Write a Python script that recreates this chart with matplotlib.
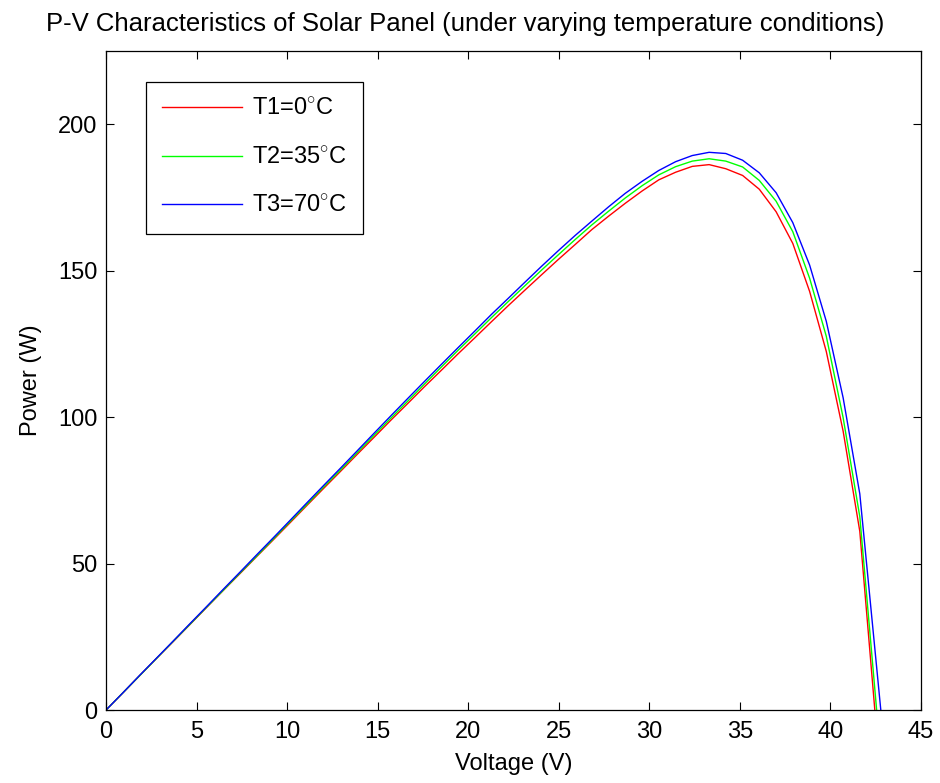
import matplotlib
matplotlib.use("Agg")
import matplotlib.pyplot as plt

volts = [0.00, 0.92, 1.85, 2.77, 3.70, 4.62, 5.55, 6.47, 7.40, 8.32,
         9.25, 10.17, 11.10, 12.02, 12.95, 13.87, 14.80, 15.72, 16.65, 17.57,
         18.50, 19.42, 20.35, 21.27, 22.20, 23.12, 24.05, 24.97, 25.90, 26.82,
         27.75, 28.67, 29.60, 30.52, 31.45, 32.37, 33.30, 34.22, 35.15, 36.07,
         37.00, 37.92, 38.85, 39.77, 40.70, 41.62]

p_t1 = [0, 5.8, 11.7, 17.5, 23.3, 29.1, 35.0, 40.8, 46.6, 52.4,
        58.2, 64.0, 69.9, 75.7, 81.5, 87.3, 93.1, 98.9, 104.6, 110.3,
        115.9, 121.5, 127.0, 132.5, 138.0, 143.3, 148.6, 153.8, 158.9, 164.0,
        168.6, 173.0, 177.2, 181.0, 183.6, 185.6, 186.2, 184.8, 182.5, 177.8,
        170.1, 159.3, 142.9, 122.4, 95.2, 61.0]
p_t2 = [0, 5.8, 11.7, 17.5, 23.4, 29.2, 35.1, 40.9, 46.8, 52.6,
        58.5, 64.4, 70.3, 76.2, 82.0, 87.9, 93.8, 99.6, 105.4, 111.2,
        117.0, 122.7, 128.3, 133.9, 139.4, 144.8, 150.2, 155.4, 160.6, 165.6,
        170.3, 174.8, 179.0, 182.7, 185.5, 187.4, 188.2, 187.4, 185.4, 180.8,
        173.7, 163.3, 147.4, 127.6, 99.8, 66.0]
p_t3 = [0, 5.8, 11.8, 17.6, 23.5, 29.4, 35.3, 41.2, 47.1, 53.0,
        58.9, 64.8, 70.8, 76.7, 82.6, 88.5, 94.5, 100.4, 106.3, 112.1,
        117.9, 123.6, 129.3, 135.0, 140.5, 146.0, 151.5, 156.8, 162.0, 166.9,
        171.8, 176.4, 180.5, 184.2, 187.2, 189.3, 190.4, 190.0, 187.7, 183.4,
        176.6, 166.4, 151.9, 132.7, 106.6, 73.8]

# open-circuit voltages where each curve reaches 0 W
voc = [42.45, 42.55, 42.78]

labels = [r'T1=0$^{\circ}$C', r'T2=35$^{\circ}$C', r'T3=70$^{\circ}$C']
colors = ['#ff0000', '#00ff00', '#0000ff']

plt.rcParams['font.family'] = ['Liberation Sans', 'DejaVu Sans']
plt.rcParams['mathtext.fontset'] = 'custom'
plt.rcParams['mathtext.rm'] = 'Liberation Sans'

fig = plt.figure(figsize=(9.4, 7.83), dpi=100)
ax = fig.add_axes([0.1128, 0.0932, 0.867, 0.8417])

for p, v_end, lab, col in zip([p_t1, p_t2, p_t3], voc, labels, colors):
    ax.plot(volts + [v_end], p + [0], color=col, lw=1.0, label=lab)

ax.set_xlim(0, 45)
ax.set_ylim(0, 225)
ax.set_xticks(range(0, 46, 5))
ax.set_yticks([0, 50, 100, 150, 200])
ax.tick_params(direction='in', length=6, width=0.8, top=True, right=True,
               labelsize=17)
ax.tick_params(axis='x', pad=8)
ax.tick_params(axis='y', pad=6)
for s in ax.spines.values():
    s.set_linewidth(0.9)

ax.set_xlabel('Voltage (V)', fontsize=17, labelpad=7)
ax.set_ylabel('Power (W)', fontsize=17, labelpad=12)
fig.text(0.495, 0.969, 'P-V Characteristics of Solar Panel (under varying temperature conditions)',
         ha='center', va='center', fontsize=18.5)

leg = ax.legend(loc='upper left', bbox_to_anchor=(0.049, 0.953), fontsize=17,
                handlelength=3.4, handletextpad=0.4, labelspacing=1.12,
                borderpad=0.68, borderaxespad=0, fancybox=False,
                edgecolor='black', framealpha=1)
leg.get_frame().set_linewidth(0.9)

fig.savefig('out.png', dpi=100)
